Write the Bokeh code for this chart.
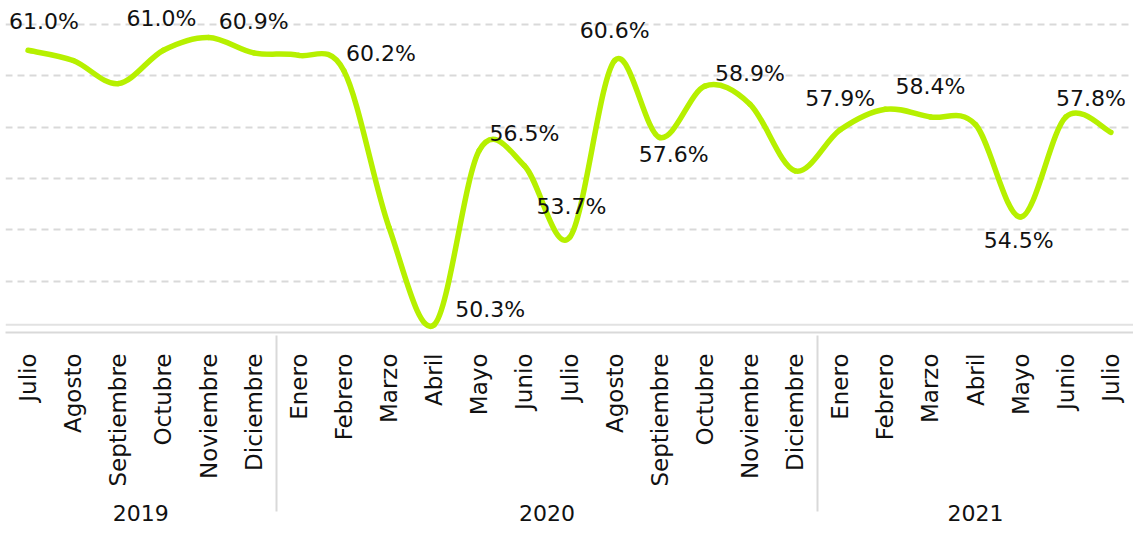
from math import pi
from bokeh.plotting import figure
from bokeh.models import FactorRange, Range1d, ColumnDataSource, FixedTicker, Span
from bokeh.embed import file_html
from bokeh.resources import INLINE
from bokeh.core.properties import value

# ---------------- data ----------------
years = ["2019"] * 6 + ["2020"] * 12 + ["2021"] * 7
months = ["Julio", "Agosto", "Septiembre", "Octubre", "Noviembre", "Diciembre",
          "Enero", "Febrero", "Marzo", "Abril", "Mayo", "Junio", "Julio",
          "Agosto", "Septiembre", "Octubre", "Noviembre", "Diciembre",
          "Enero", "Febrero", "Marzo", "Abril", "Mayo", "Junio", "Julio"]
rate = [61.0, 60.6, 59.7, 61.0, 61.5, 60.9,
        60.8, 60.2, 54.1, 50.3, 57.1, 56.5, 53.7,
        60.6, 57.6, 59.6, 58.9, 56.3,
        57.9, 58.7, 58.4, 58.1, 54.5, 58.4, 57.8]
labeled = [0, 3, 5, 7, 9, 11, 12, 13, 14, 16, 18, 20, 22, 24]
grid_values = [52, 54, 56, 58, 60, 62]

# label placement (screen px), kept apart from the data
label_dx = [16, -2, 0, 37, 56, 0, 2, 0, 14, 0, 0, 0, -2, -20]
label_dy = [-29, -32, -31, -17, -15, -32, -31, -30, 17, -31, -31, -30, 23, -34]

FONT = "DejaVu Sans"
LINE = "#b6f000"
GRID = "#d9d9d9"
TXT = "#111111"

factors = list(zip(years, months))
n = len(factors)

p = figure(width=1133, height=527,
           x_range=FactorRange(*factors, factor_padding=0, group_padding=0, range_padding=0),
           y_range=Range1d(50.0, 62.94),
           output_backend="svg", toolbar_location=None,
           min_border_left=5, min_border_right=0, min_border_top=0, min_border_bottom=195)
p.outline_line_color = None
p.background_fill_color = "white"

# grid
p.xgrid.visible = False
p.ygrid.ticker = FixedTicker(ticks=grid_values)
p.ygrid.grid_line_color = GRID
p.ygrid.grid_line_dash = "7 5"
p.ygrid.grid_line_width = 2
p.yaxis.visible = False

# baseline at the minimum value
p.add_layout(Span(location=min(rate), dimension="width", line_color="#e2e2e2",
                  line_width=2, level="underlay"))

# smooth line through the points (cubic Bezier segments, Catmull-Rom tangents);
# x uses the factor range's own synthetic coordinates (factor i sits at i + 0.5)
xs = [i + 0.5 for i in range(n)]
seg = dict(x0=[], y0=[], x1=[], y1=[], cx0=[], cy0=[], cx1=[], cy1=[])
for i in range(n - 1):
    a = max(i - 1, 0)
    b = min(i + 2, n - 1)
    seg["x0"].append(xs[i]); seg["y0"].append(rate[i])
    seg["x1"].append(xs[i + 1]); seg["y1"].append(rate[i + 1])
    seg["cx0"].append(xs[i] + (xs[i + 1] - xs[a]) / 6)
    seg["cy0"].append(rate[i] + (rate[i + 1] - rate[a]) / 6)
    seg["cx1"].append(xs[i + 1] - (xs[b] - xs[i]) / 6)
    seg["cy1"].append(rate[i + 1] - (rate[b] - rate[i]) / 6)
p.bezier(x0="x0", y0="y0", x1="x1", y1="y1", cx0="cx0", cy0="cy0", cx1="cx1", cy1="cy1",
         source=ColumnDataSource(seg), line_color=LINE, line_width=5.5, line_cap="round")

# data labels
lab = ColumnDataSource(dict(
    x=[factors[i] for i in labeled],
    y=[rate[i] for i in labeled],
    text=[f"{rate[i]:.1f}%" for i in labeled],
    dx=label_dx, dy=label_dy))
p.text(x="x", y="y", text="text", source=lab, x_offset="dx", y_offset="dy",
       text_font=value(FONT), text_font_size="22px", text_align="center",
       text_baseline="middle", text_color=TXT)

# category axis
ax = p.xaxis[0]
ax.axis_line_color = GRID
ax.axis_line_width = 2
ax.major_tick_line_color = None
ax.minor_tick_line_color = None
ax.major_label_orientation = pi / 2
ax.major_label_standoff = 15
ax.major_label_text_font = FONT
ax.major_label_text_font_size = "23px"
ax.major_label_text_color = TXT
ax.group_label_orientation = "horizontal"
ax.group_text_font = FONT
ax.group_text_font_size = "22px"
ax.group_text_font_style = "normal"
ax.group_text_color = TXT
ax.separator_line_color = GRID
ax.separator_line_width = 2

open("out.html", "w").write(file_html(p, INLINE))
